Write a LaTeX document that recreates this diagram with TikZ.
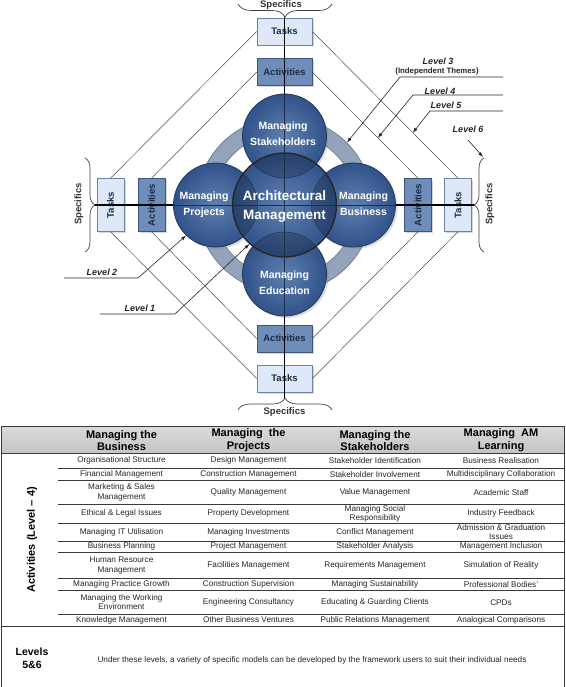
\documentclass[tikz,border=0pt]{standalone}
\usepackage{fontspec}
\setmainfont{Liberation Sans}
\usepackage{graphicx}
\usetikzlibrary{decorations.pathreplacing,arrows.meta,shadows,calc}
\definecolor{circin}{HTML}{5E80AF}
\definecolor{circout}{HTML}{31528A}
\definecolor{circedge}{HTML}{22395C}
\definecolor{ringfill}{HTML}{93A3BA}
\definecolor{ringedge}{HTML}{61738E}
\definecolor{taskfill}{HTML}{DDE9F8}
\definecolor{taskedge}{HTML}{7183A0}
\definecolor{actfill}{HTML}{6E8DB8}
\definecolor{actedge}{HTML}{3E5578}
\definecolor{boxtext}{HTML}{1E2C46}
\definecolor{hdrtop}{HTML}{DADADA}
\definecolor{hdrbot}{HTML}{C4C4C4}
\definecolor{tline}{HTML}{3A3A3A}
\newcommand{\trow}[6]{%
  \node[cell] (#2a) at (121.5,#1) {#3};
  \node[cell] (#2b) at (248.5,#1) {#4};
  \node[cell] (#2c) at (375,#1) {#5};
  \node[cell] (#2d) at (501,#1) {#6};}
\begin{document}
\begin{tikzpicture}[x=1pt,y=-1pt,
  boxbase/.style={line width=0.6pt, inner sep=0pt, font=\bfseries\fontsize{9.5}{11}\selectfont, text=boxtext,
    drop shadow={opacity=0.3, shadow xshift=1.5pt, shadow yshift=-1.5pt}},
  taskbox/.style={boxbase, draw=taskedge, fill=taskfill, minimum width=55pt, minimum height=27pt},
  actbox/.style={boxbase, draw=actedge, fill=actfill, minimum width=55pt, minimum height=27pt},
  vbox/.style={minimum width=27pt, minimum height=53pt},
  diag/.style={draw=black!70, line width=0.5pt},
  axis/.style={draw=black, line width=1.3pt},
  thinax/.style={draw=circedge!80!black, line width=0.5pt},
  brc/.style={decorate, draw=black!75, line width=0.7pt},
  spec/.style={font=\bfseries\fontsize{9.5}{11}\selectfont, text=black!80, inner sep=0pt},
  ringnode/.style={circle, inner sep=0pt, fill=ringfill, draw=ringedge, line width=0.6pt},
  sat/.style={circle, minimum size=84pt, inner sep=0pt, draw=circedge, line width=0.8pt, inner color=circin, outer color=circout,
    drop shadow={opacity=0.25, shadow xshift=2pt, shadow yshift=-2pt}},
  cen/.style={circle, minimum size=104pt, inner sep=0pt, draw=black!85, line width=1pt, inner color=circin, outer color=circout},
  sattext/.style={text=white, font=\bfseries\fontsize{10.5}{16}\selectfont, align=center, inner sep=0pt},
  centext/.style={text=white, font=\bfseries\fontsize{13.5}{19}\selectfont, align=center, inner sep=0pt},
  lvltext/.style={font=\bfseries\itshape\fontsize{9}{10}\selectfont, text=black!85, inner sep=0pt},
  lvlsub/.style={font=\bfseries\fontsize{7.8}{9}\selectfont, text=black!85, inner sep=0pt},
  lvlarrow/.style={draw=black!85, line width=0.6pt, -{Latex[length=5pt,width=3.6pt]}},
  tbl/.style={draw=tline, line width=0.9pt},
  trule/.style={draw=tline, line width=0.6pt},
  hdr/.style={font=\bfseries\fontsize{11}{12.7}\selectfont, align=center, inner sep=0pt},
  cell/.style={font=\fontsize{8.2}{9.6}\selectfont, align=center, inner sep=0pt, text=black!85},
  rowlab/.style={font=\bfseries\fontsize{11}{13}\selectfont, inner sep=0pt},
]
\useasboundingbox (0,0) rectangle (565,687);
\fill[white] (0,0) rectangle (565,687);

\coordinate (C) at (284.5,205);

% boxes
\node[taskbox] (tt) at (284.5,31.5) {Tasks};
\node[actbox] (ta) at (284.5,72) {Activities};
\node[actbox] (ba) at (284.5,338.5) {Activities};
\node[taskbox] (bt) at (284.5,378.5) {Tasks};
\node[taskbox, vbox] (lt) at (110.5,205) {\rotatebox{90}{Tasks}};
\node[actbox, vbox] (la) at (151.5,205) {\rotatebox{90}{Activities}};
\node[actbox, vbox] (ra) at (418,205) {\rotatebox{90}{Activities}};
\node[taskbox, vbox] (rt) at (458,205) {\rotatebox{90}{Tasks}};

% diamond lines
\draw[diag] (tt.west) -- (lt.north);
\draw[diag] (ta.west) -- (la.north);
\draw[diag] (tt.east) -- (rt.north);
\draw[diag] (ta.east) -- (ra.north);
\draw[diag] (lt.south) -- (bt.west);
\draw[diag] (la.south) -- (ba.west);
\draw[diag] (rt.south) -- (bt.east);
\draw[diag] (ra.south) -- (ba.east);

% braces
\draw[brc, decoration={brace, amplitude=13pt}] (332,4) -- (238,4);
\draw[brc, decoration={brace, amplitude=12pt}] (238,410) -- (332,410);
\draw[brc, decoration={brace, amplitude=10pt}] (85,158) -- (85,252);
\draw[brc, decoration={brace, amplitude=10pt}] (484,252) -- (484,158);
\coordinate (ttip) at (284.5,17);
\coordinate (btip) at (284.5,398);
\coordinate (ltip) at (95,205);
\coordinate (rtip) at (474,205);
\node[spec] (sp1) at (281,5) {Specifics};
\node[spec] (sp2) at (284.5,412) {Specifics};
\node[spec, rotate=90] (sp3) at (79,204) {Specifics};
\node[spec, rotate=90] (sp4) at (490,204) {Specifics};

% ring and circles
\node[ringnode, minimum size=176pt] (ringo) at (C) {};
\node[circle, inner sep=0pt, minimum size=144pt, fill=white, draw=ringedge, line width=0.6pt] (ringi) at (C) {};
\node[sat] (s) at (284.5,136) {};
\node[sat] (p) at (215.5,205) {};
\node[sat] (b) at (353.5,205) {};
\node[sat] (e) at (284.5,274) {};
\node[cen] (c) at (C) {};
\begin{scope}
  \clip (C) circle[radius=52pt];
  \fill[black, opacity=0.2] (s.center) circle[radius=42pt] (p.center) circle[radius=42pt]
     (b.center) circle[radius=42pt] (e.center) circle[radius=42pt];
  \draw[circedge!70!black, line width=0.5pt, opacity=0.7] (s.center) circle[radius=42pt] (p.center) circle[radius=42pt]
     (b.center) circle[radius=42pt] (e.center) circle[radius=42pt];
\end{scope}
\draw[black!85, line width=1pt] (C) circle[radius=52pt];

% axis lines
\draw[thinax] (s.north) -- (e.south);
\draw[thinax] (p.west) -- (b.east);
\draw[axis] (ttip) -- (s.north);
\draw[axis] (e.south) -- (btip);
\draw[axis] (ltip) -- (p.west);
\draw[axis] (b.east) -- (rtip);

% circle texts
\node[sattext] (stx) at (283,134) {Managing\\Stakeholders};
\node[sattext] (ptx) at (204,205) {Managing\\Projects};
\node[sattext] (btx) at (363.5,204) {Managing\\Business};
\node[sattext] (etx) at (284.5,283) {Managing\\Education};
\node[centext] (ctx) at (284.5,206.5) {Architectural\\Management};

% level labels
\node[lvltext] (l3) at (438,61) {Level 3};
\node[lvlsub] (l3b) at (437,71.5) {(Independent Themes)};
\coordinate (l3e) at (503,77);
\coordinate (l3s) at (400,77);
\draw[lvlarrow] (l3e) -- (l3s) -- (ringo.45);

\node[lvltext] (l4) at (440,91) {Level 4};
\coordinate (l4e) at (503,95);
\coordinate (l4s) at (413,95);
\coordinate (l4t) at ($(ta.east)!0.62!(ra.north)$);
\draw[lvlarrow] (l4e) -- (l4s) -- (l4t);

\node[lvltext] (l5) at (446,105.5) {Level 5};
\coordinate (l5e) at (503,111);
\coordinate (l5s) at (430,111);
\coordinate (l5t) at ($(tt.east)!0.69!(rt.north)$);
\draw[lvlarrow] (l5e) -- (l5s) -- (l5t);

\node[lvltext] (l6) at (468,129) {Level 6};
\coordinate (l6s) at (468,140);
\coordinate (l6t) at (483,157);
\draw[lvlarrow] (l6s) -- (l6t);

\node[lvltext] (l2) at (102,272.5) {Level 2};
\coordinate (l2s) at (64,278);
\coordinate (l2k) at (138,278);
\draw[lvlarrow] (l2s) -- (l2k) -- (p.226);

\node[lvltext] (l1) at (140,308.5) {Level 1};
\coordinate (l1s) at (100,314);
\coordinate (l1k) at (175,314);
\draw[lvlarrow] (l1s) -- (l1k) -- (c.228);

% table
\shade[top color=hdrtop, bottom color=hdrbot] (1,426) rectangle (564,453.3);
\draw[tbl] (1,687) -- (1,426) -- (564,426) -- (564,687);
\draw[tbl] (1,453.3) -- (564,453.3);
\draw[tbl] (1,626) -- (564,626);
\foreach \yy in {468.3,480.7,504.3,523.3,541,552.3,578.3,590.3,614}
  \draw[trule] (58,\yy) -- (564,\yy);

\node[hdr] (h1) at (121.5,440.5) {Managing the\\Business};
\node[hdr] (h2) at (248.5,440.5) {Managing\ \ the\\Projects};
\node[hdr] (h3) at (375,440.5) {Managing the\\Stakeholders};
\node[hdr] (h4) at (501,440.5) {Managing\ \ AM\\Learning};

\node[rowlab, rotate=90] (actlab) at (32,540) {Activities (Level – 4)};

\trow{460.8}{r1}{Organisational Structure}{Design Management}{Stakeholder Identification}{Business Realisation}
\trow{474.5}{r2}{Financial Management}{Construction Management}{Stakeholder Involvement}{Multidisciplinary Collaboration}
\trow{492.5}{r3}{Marketing \& Sales\\Management}{Quality Management}{Value Management}{Academic Staff}
\trow{513.8}{r4}{Ethical \& Legal Issues}{Property Development}{Managing Social\\Responsibility}{Industry Feedback}
\trow{532.2}{r5}{Managing IT Utilisation}{Managing Investments}{Conflict Management}{Admission \& Graduation\\Issues}
\trow{546.7}{r6}{Business Planning}{Project Management}{Stakeholder Analysis}{Management Inclusion}
\trow{565.3}{r7}{Human Resource\\Management}{Facilities Management}{Requirements Management}{Simulation of Reality}
\trow{584.3}{r8}{Managing Practice Growth}{Construction Supervision}{Managing Sustainability}{Professional Bodies’}
\trow{602.2}{r9}{Managing the Working\\Environment}{Engineering Consultancy}{Educating \& Guarding Clients}{CPDs}
\trow{620}{r10}{Knowledge Management}{Other Business Ventures}{Public Relations Management}{Analogical Comparisons}

\node[rowlab, align=center, font=\bfseries\fontsize{10.5}{13}\selectfont] (lev) at (32,658) {Levels\\5\&6};
\node[cell] (under) at (312,660) {Under these levels, a variety of specific models can be developed by the framework users to suit their individual needs};
\end{tikzpicture}
\end{document}
